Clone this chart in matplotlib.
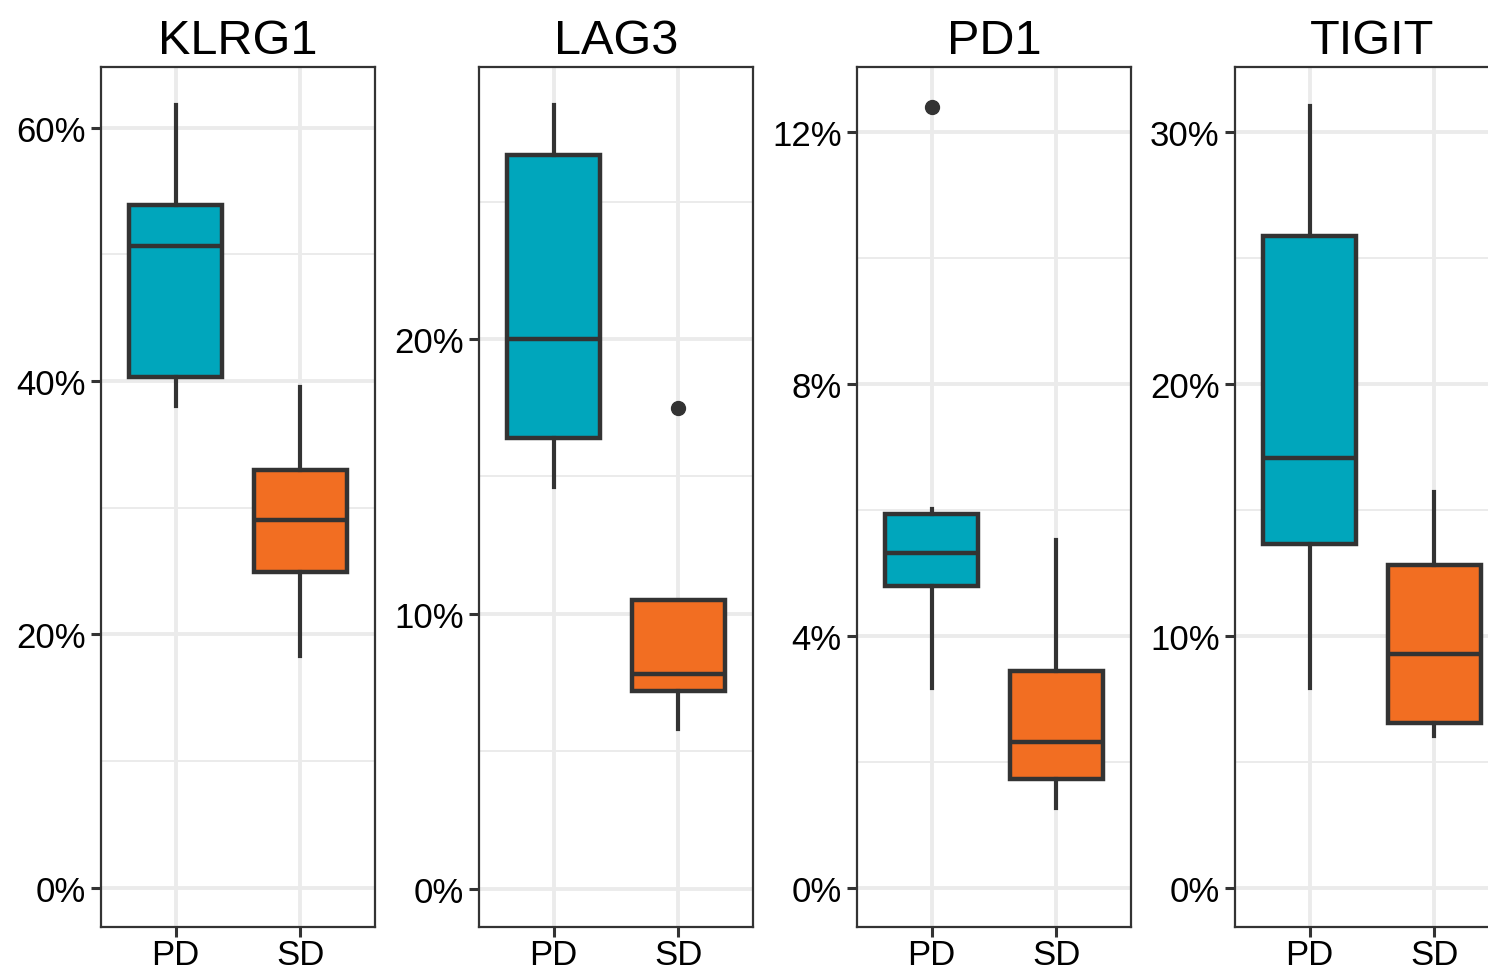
import matplotlib
matplotlib.use("Agg")
import matplotlib.pyplot as plt
from matplotlib.ticker import PercentFormatter, FixedLocator

plt.rcParams['font.family'] = ['Liberation Sans', 'DejaVu Sans']

# box statistics (percent)
markers = ["KLRG1", "LAG3", "PD1", "TIGIT"]
groups = ["PD", "SD"]

pd_whislo = [38.0, 14.6, 3.17, 7.94]
pd_q1 = [40.3, 16.4, 4.79, 13.65]
pd_med = [50.7, 20.0, 5.32, 17.06]
pd_q3 = [53.9, 26.7, 5.94, 25.87]
pd_whishi = [61.8, 28.5, 6.02, 31.07]
pd_fliers = [[], [], [12.4], []]

sd_whislo = [18.3, 5.8, 1.27, 6.03]
sd_q1 = [24.9, 7.2, 1.73, 6.55]
sd_med = [29.0, 7.8, 2.32, 9.29]
sd_q3 = [33.0, 10.5, 3.44, 12.82]
sd_whishi = [39.5, 10.5, 5.52, 15.71]
sd_fliers = [[], [17.5], [], []]

y_limits = [(-3.1, 64.8), (-1.4, 29.9), (-0.62, 13.03), (-1.55, 32.6)]
major_ticks = [[0, 20, 40, 60], [0, 10, 20], [0, 4, 8, 12], [0, 10, 20, 30]]
minor_ticks = [[10, 30, 50], [5, 15, 25], [2, 6, 10], [5, 15, 25]]

colors = ["#00A6BC", "#F26E22"]
dark = "#333333"
grid_col = "#EBEBEB"

W, H = 1488, 970
fig = plt.figure(figsize=(W / 100, H / 100), dpi=100)
lefts = [101, 479, 857, 1235]
panel_w, top, bottom = 274, 68, 928

for i, name in enumerate(markers):
    ax = fig.add_axes([lefts[i] / W, 1 - bottom / H, panel_w / W, (bottom - top) / H])
    stats = [
        dict(whislo=pd_whislo[i], q1=pd_q1[i], med=pd_med[i], q3=pd_q3[i],
             whishi=pd_whishi[i], fliers=pd_fliers[i], label=groups[0]),
        dict(whislo=sd_whislo[i], q1=sd_q1[i], med=sd_med[i], q3=sd_q3[i],
             whishi=sd_whishi[i], fliers=sd_fliers[i], label=groups[1]),
    ]
    bp = ax.bxp(stats, positions=[1, 2], widths=0.75, patch_artist=True,
                showcaps=False,
                boxprops=dict(edgecolor=dark, linewidth=3.2),
                medianprops=dict(color=dark, linewidth=3.2),
                whiskerprops=dict(color=dark, linewidth=3),
                flierprops=dict(marker='o', markerfacecolor=dark, markeredgecolor=dark,
                                markersize=10))
    for patch, c in zip(bp['boxes'], colors):
        patch.set_facecolor(c)
        patch.set_zorder(3)
    for k in ('whiskers', 'medians', 'fliers'):
        for a in bp[k]:
            a.set_zorder(3)
    for a in bp['medians']:
        a.set_zorder(4)

    ax.set_xlim(0.4, 2.6)
    ax.set_ylim(*y_limits[i])
    ax.yaxis.set_major_locator(FixedLocator(major_ticks[i]))
    ax.yaxis.set_minor_locator(FixedLocator(minor_ticks[i]))
    ax.yaxis.set_major_formatter(PercentFormatter(xmax=100, decimals=0))
    ax.set_xticks([1, 2])
    ax.set_xticklabels(groups)

    ax.set_axisbelow(True)
    ax.grid(True, which='major', color=grid_col, linewidth=2.8)
    ax.grid(True, which='minor', axis='y', color=grid_col, linewidth=1.4)
    ax.tick_params(which='major', length=7, width=2.2, color=dark,
                   labelsize=25, labelcolor='black', pad=4)
    ax.tick_params(axis='x', which='major', pad=1)
    ax.tick_params(which='minor', length=0)
    for s in ax.spines.values():
        s.set_color(dark)
        s.set_linewidth(1.6)
    ax.set_title(name, fontsize=35, pad=10)

fig.savefig("out.png", dpi=100)
